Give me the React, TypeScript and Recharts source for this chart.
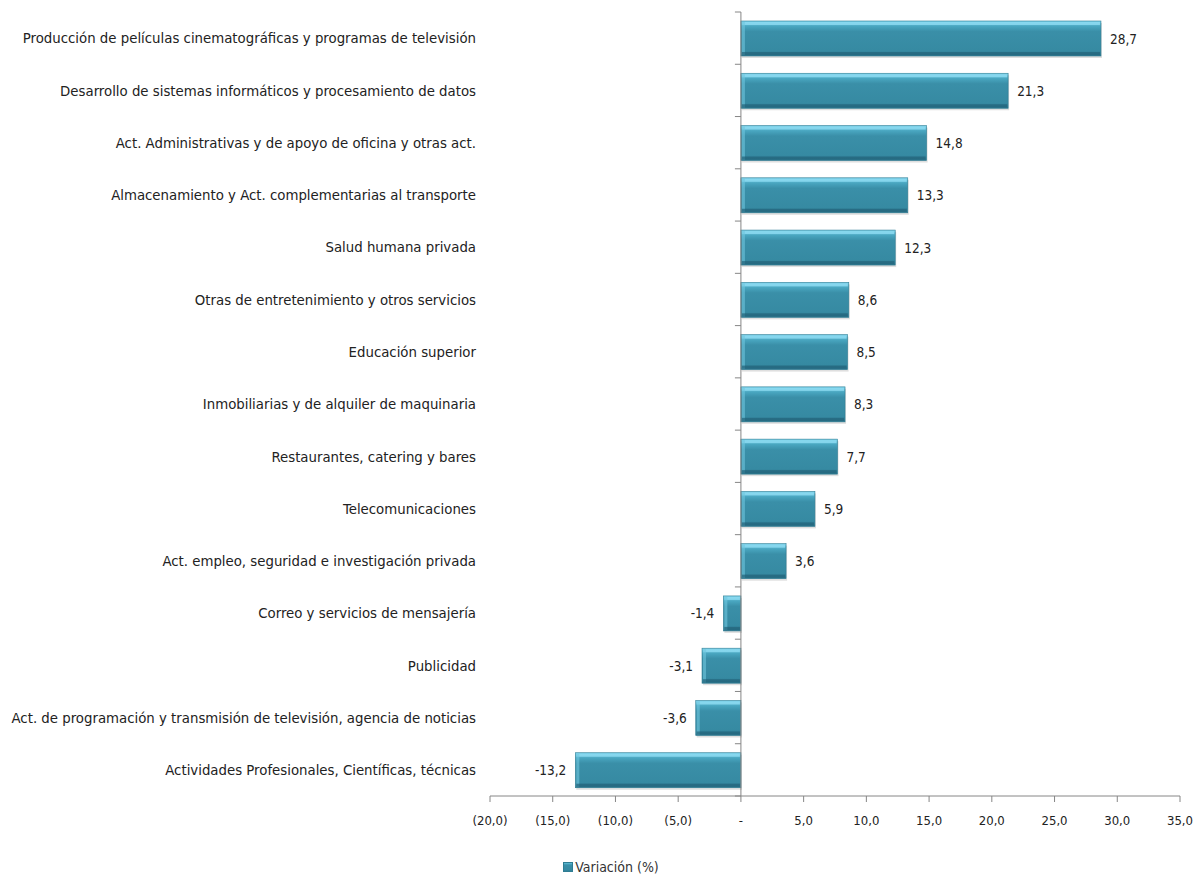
import { BarChart, Bar, XAxis, YAxis, ReferenceLine, LabelList, Legend } from 'recharts';

// Variación (%) por actividad
const categories = [
  'Producción de películas cinematográficas y programas de televisión',
  'Desarrollo de sistemas informáticos y procesamiento de datos',
  'Act. Administrativas y de apoyo de oficina y otras act.',
  'Almacenamiento y Act. complementarias al transporte',
  'Salud humana privada',
  'Otras de entretenimiento y otros servicios',
  'Educación superior',
  'Inmobiliarias y de alquiler de maquinaria',
  'Restaurantes, catering y bares',
  'Telecomunicaciones',
  'Act. empleo, seguridad e investigación privada',
  'Correo y servicios de mensajería',
  'Publicidad',
  'Act. de programación y transmisión de televisión, agencia de noticias',
  'Actividades Profesionales, Científicas, técnicas',
];
const variacion = [28.7, 21.3, 14.8, 13.3, 12.3, 8.6, 8.5, 8.3, 7.7, 5.9, 3.6, -1.4, -3.1, -3.6, -13.2];
const xTicks = [-20, -15, -10, -5, 0, 5, 10, 15, 20, 25, 30, 35];

const data = categories.map((name, i) => ({ name, value: variacion[i] }));

const FONT = '"DejaVu Sans Condensed", "Liberation Sans Narrow", "Open Sans", sans-serif';
const AXIS = '#868686';

const fmt = (v: number) => {
  if (v === 0) return '-';
  const s = Math.abs(v).toFixed(1).replace('.', ',');
  return v < 0 ? `(${s})` : s;
};

const BevelBar = (props: any) => {
  const { x, y, width, height } = props;
  const left = Math.min(x, x + width);
  const w = Math.abs(width);
  if (!w) return null;
  return (
    <g>
      <rect x={left + 1} y={y + 2} width={w} height={height} fill="#c4c4c4" opacity={0.55} />
      <rect x={left} y={y} width={w} height={height} fill="url(#barGrad)" stroke="#2f7d93" strokeWidth={0.6} />
      <rect x={left + 1} y={y + 1} width={Math.max(w - 2, 0)} height={3} fill="#8fdcf2" opacity={0.8} />
      <rect x={left + 1} y={y + 1} width={3} height={height - 2} fill="#6fc6de" opacity={0.6} />
      <rect x={left + 1} y={y + height - 4} width={Math.max(w - 2, 0)} height={3} fill="#24647a" opacity={0.7} />
    </g>
  );
};

const ValueLabel = (props: any) => {
  const { x, y, width, height, value } = props;
  const neg = value < 0;
  const end = neg ? Math.min(x, x + width) : Math.max(x, x + width);
  return (
    <text
      x={neg ? end - 9 : end + 9}
      y={y + height / 2 + 1}
      textAnchor={neg ? 'end' : 'start'}
      dominantBaseline="middle"
      fontSize={13.5}
      fontFamily={FONT}
      fill="#222"
    >
      {String(value).replace('.', ',')}
    </text>
  );
};

const ZeroAxis = (props: any) => {
  const { x1, y1, y2 } = props;
  const top = Math.min(y1, y2);
  const bottom = Math.max(y1, y2);
  const n = categories.length;
  const ticks = Array.from({ length: n + 1 }, (_, i) => top + ((bottom - top) * i) / n);
  return (
    <g>
      <line x1={x1} y1={top} x2={x1} y2={bottom} stroke={AXIS} strokeWidth={1} />
      {ticks.map((t, i) => (
        <line key={i} x1={x1 - 6} y1={t} x2={x1} y2={t} stroke={AXIS} strokeWidth={1} />
      ))}
    </g>
  );
};

const LegendContent = () => (
  <div
    style={{
      display: 'flex',
      alignItems: 'center',
      justifyContent: 'center',
      fontFamily: FONT,
      fontSize: 14,
      color: '#333',
      paddingLeft: 42,
      paddingTop: 31,
    }}
  >
    <svg width={10} height={10} style={{ marginRight: 2 }}>
      <rect x={0.5} y={0.5} width={9} height={9} fill="url(#barGrad)" stroke="#2f7d93" />
    </svg>
    Variación (%)
  </div>
);

export default function App() {
  return (
    <div style={{ position: 'absolute', left: 0, top: 0, width: 1196, height: 876, background: '#fff' }}>
      <BarChart
        width={1196}
        height={876}
        data={data}
        layout="vertical"
        margin={{ top: 12, right: 16, left: 0, bottom: 0 }}
        barSize={35}
      >
        <defs>
          <linearGradient id="barGrad" x1="0" y1="0" x2="0" y2="1">
            <stop offset="0%" stopColor="#7fd4ec" />
            <stop offset="15%" stopColor="#49a6c0" />
            <stop offset="30%" stopColor="#3a8fa8" />
            <stop offset="85%" stopColor="#368aa2" />
            <stop offset="100%" stopColor="#2a7289" />
          </linearGradient>
        </defs>
        <XAxis
          type="number"
          domain={[-20, 35]}
          ticks={xTicks}
          tickFormatter={fmt}
          stroke={AXIS}
          tick={{ fill: '#222', fontSize: 13, fontFamily: FONT }}
          tickSize={6}
          tickMargin={14}
          height={32}
        />
        <YAxis
          type="category"
          dataKey="name"
          width={490}
          axisLine={false}
          tickLine={false}
          tickMargin={8}
          interval={0}
          tick={{ fill: '#222', fontSize: 14.8, fontFamily: FONT }}
        />
        <ReferenceLine x={0} shape={ZeroAxis} />
        <Legend verticalAlign="bottom" height={48} content={LegendContent} />
        <Bar dataKey="value" shape={BevelBar} isAnimationActive={false}>
          <LabelList dataKey="value" content={ValueLabel} />
        </Bar>
      </BarChart>
    </div>
  );
}
